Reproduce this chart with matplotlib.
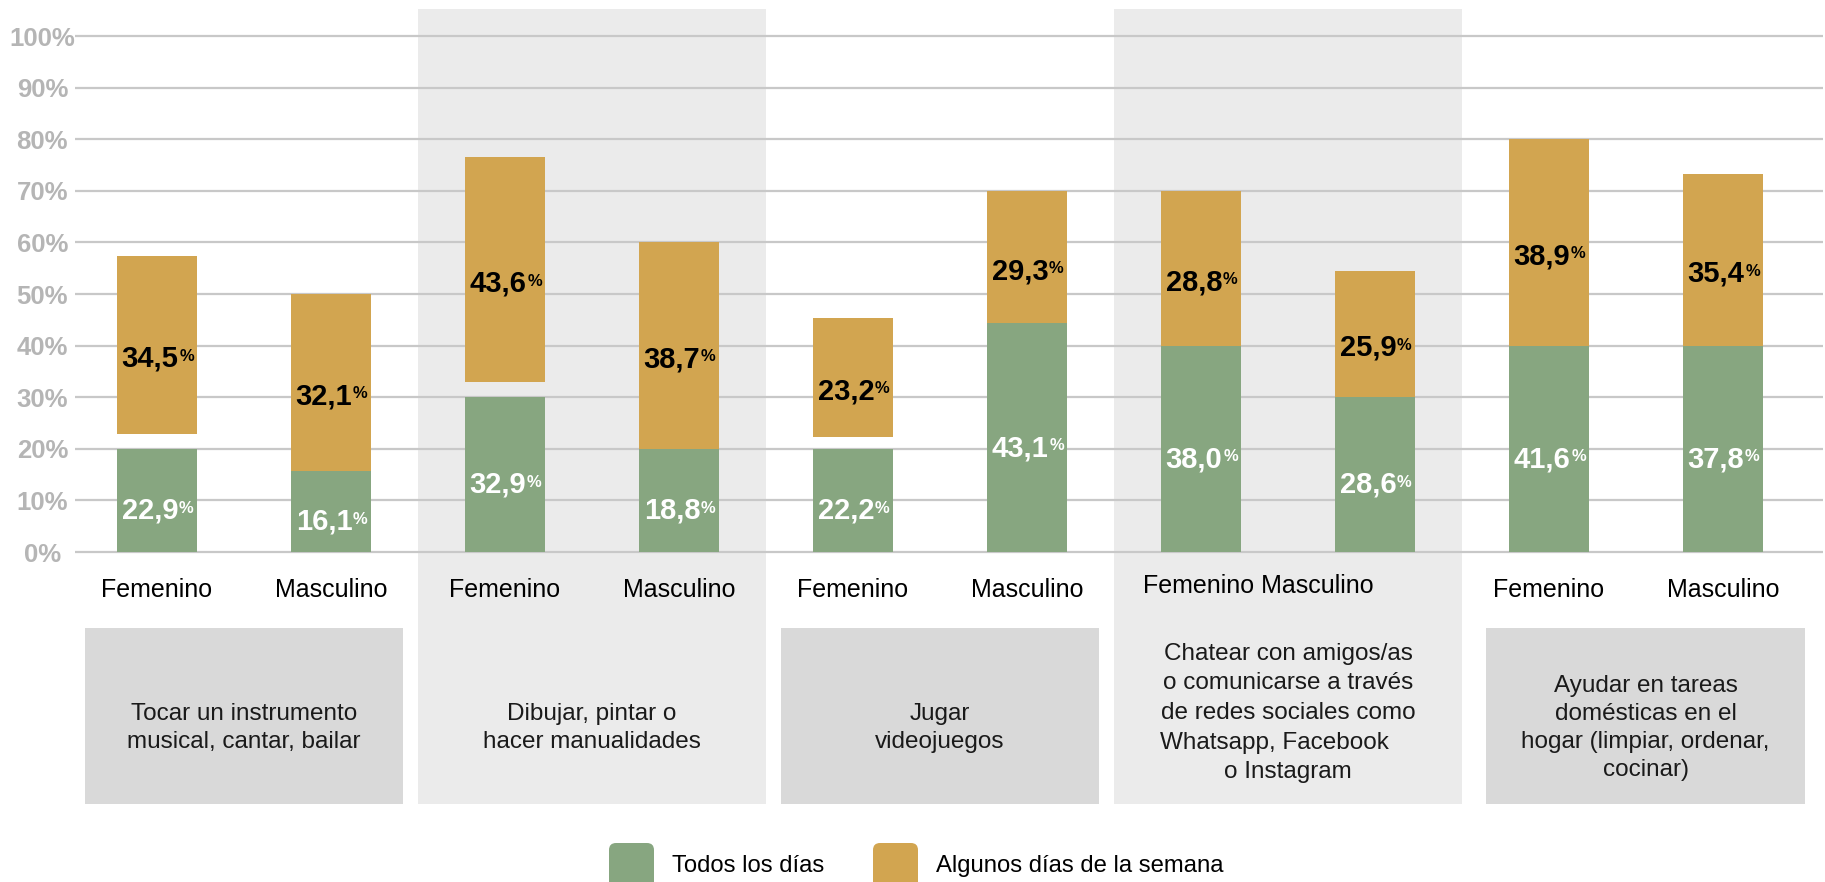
import matplotlib
matplotlib.use("Agg")
import matplotlib.pyplot as plt
from matplotlib.patches import Rectangle, FancyBboxPatch
from matplotlib.transforms import blended_transform_factory, IdentityTransform

plt.rcParams['font.family'] = ['Liberation Sans', 'DejaVu Sans']

# ---------------- data ----------------
actividades = [
    "Tocar un instrumento\nmusical, cantar, bailar",
    "Dibujar, pintar o\nhacer manualidades",
    "Jugar\nvideojuegos",
    "Chatear con amigos/as\no comunicarse a través\nde redes sociales como\nWhatsapp, Facebook    \no Instagram",
    "Ayudar en tareas\ndomésticas en el\nhogar (limpiar, ordenar,\ncocinar)",
]
sexos = ["Femenino", "Masculino"]
series = ["Todos los días", "Algunos días de la semana"]

# values printed on the bars (%)
todos_val = [22.9, 16.1, 32.9, 18.8, 22.2, 43.1, 38.0, 28.6, 41.6, 37.8]
algunos_val = [34.5, 32.1, 43.6, 38.7, 23.2, 29.3, 28.8, 25.9, 38.9, 35.4]

# bar segments as drawn in the picture (%)
todos_alto = [20.0, 15.7, 30.0, 20.0, 20.0, 44.3, 40.0, 30.0, 40.0, 40.0]
algunos_base = [22.9, 15.7, 32.9, 20.0, 22.2, 44.3, 40.0, 30.0, 40.0, 40.0]
algunos_tope = [57.4, 50.0, 76.5, 60.0, 45.4, 70.0, 70.0, 54.5, 80.0, 73.3]

yticks = [0, 10, 20, 30, 40, 50, 60, 70, 80, 90, 100]
ytick_labels = [f"{v}%" for v in yticks]

# ---------------- style ----------------
VERDE = "#87A680"
ORO = "#D2A550"
BANDA = "#EBEBEB"
CAJA = "#D9D9D9"
GRID = "#C8C8C8"
TICKGRAY = "#B5B5B5"

W, H = 1825, 882
fig = plt.figure(figsize=(W / 100, H / 100), dpi=100)

# axes geometry (pixels)
ax_left, ax_right = 75, 1823
y0_px, y100_px = 552, 36
ppu = (y0_px - y100_px) / 100.0
ylo, yhi = -0.4, 100.4
bot_px = y0_px + (0 - ylo) * ppu
top_px = y100_px - (yhi - 100) * ppu
ax = fig.add_axes([ax_left / W, (H - bot_px) / H, (ax_right - ax_left) / W, (bot_px - top_px) / H])
ax.patch.set_visible(False)

step = 174.0
first_c = 157.0
xlo = -(first_c - ax_left) / step
xhi = xlo + (ax_right - ax_left) / step
ax.set_xlim(xlo, xhi)
ax.set_ylim(ylo, yhi)

n = len(todos_val)
xs = list(range(n))
bw = 0.46

ax.bar(xs, todos_alto, width=bw, color=VERDE, zorder=3)
alg_h = [t - b for t, b in zip(algunos_tope, algunos_base)]
ax.bar(xs, alg_h, bottom=algunos_base, width=bw, color=ORO, zorder=3)

# grid
ax.set_yticks(yticks)
ax.set_yticklabels(ytick_labels)
ax.yaxis.grid(True, color=GRID, linewidth=1.6, zorder=1)
ax.set_axisbelow(True)
for s in ax.spines.values():
    s.set_visible(False)
ax.tick_params(axis='y', length=0, pad=23.5, labelsize=18.5, labelcolor=TICKGRAY)
for lab in ax.get_yticklabels():
    lab.set_fontweight('bold')
    lab.set_horizontalalignment('center')

# x tick labels (group 4 labels are squeezed together in the original)
xt_labels = [sexos[i % 2] for i in range(n)]
xt_labels[6] = ""
xt_labels[7] = ""
ax.set_xticks(xs)
ax.set_xticklabels(xt_labels)
ax.tick_params(axis='x', length=0, pad=17, labelsize=18, labelcolor="black")

bt = blended_transform_factory(ax.transData, fig.transFigure)
ax.text(6.33, (H - 586) / H, "Femenino Masculino", transform=bt, ha='center', va='center',
        fontsize=18, color="black")

# bands and category boxes
band_bot, band_top = (H - 804) / H, (H - 9) / H
box_bot, box_top = (H - 804) / H, (H - 628) / H
box_shift = [0.0, 0.0, 0.0, 0.0, 0.055]
text_y = [728, 728, 728, 713, 728]
text_ls = [1.33, 1.33, 1.33, 1.45, 1.37]
for g, txt in enumerate(actividades):
    gc = 2 * g + 0.5 + box_shift[g]
    if g % 2 == 1:
        ax.add_patch(Rectangle((gc - 1.0, band_bot), 2.0, band_top - band_bot, transform=bt,
                               facecolor=BANDA, edgecolor='none', zorder=0, clip_on=False))
    else:
        ax.add_patch(Rectangle((gc - 0.915, box_bot), 1.83, box_top - box_bot, transform=bt,
                               facecolor=CAJA, edgecolor='none', zorder=0.2, clip_on=False))
    ax.text(gc, (H - text_y[g]) / H, txt, transform=bt, ha='center', va='center',
            multialignment='center', fontsize=17.5, color="#1a1a1a", linespacing=text_ls[g])

# value labels
def etiqueta(x, y, valor, color):
    t = ax.annotate(f"{valor:.1f}".replace(".", ","), xy=(x, y), xytext=(-5, 0),
                    textcoords='offset points', ha='center', va='center',
                    fontsize=21, fontweight='bold', color=color, zorder=5)
    ax.annotate("%", xy=(1, 0.86), xycoords=t, xytext=(0.5, 0), textcoords='offset points',
                ha='left', va='top', fontsize=12, fontweight='bold', color=color, zorder=5)

for i in range(n):
    etiqueta(i, todos_alto[i] / 2 - 2.0, todos_val[i], "white")
    etiqueta(i, (algunos_base[i] + algunos_tope[i]) / 2 - 2.7, algunos_val[i], "black")

# legend (manual, cut at the bottom as in the original)
idt = IdentityTransform()
for x0, col, lab in [(609, VERDE, series[0]), (873, ORO, series[1])]:
    fig.add_artist(FancyBboxPatch((x0, -20), 45, H - 843 + 20,
                                  boxstyle="round,pad=0,rounding_size=7",
                                  transform=idt, facecolor=col, edgecolor='none'))
    fig.text((x0 + 63) / W, (H - 866) / H, lab, ha='left', va='center', fontsize=17.2, color="black")

fig.savefig("out.png", dpi=100)
